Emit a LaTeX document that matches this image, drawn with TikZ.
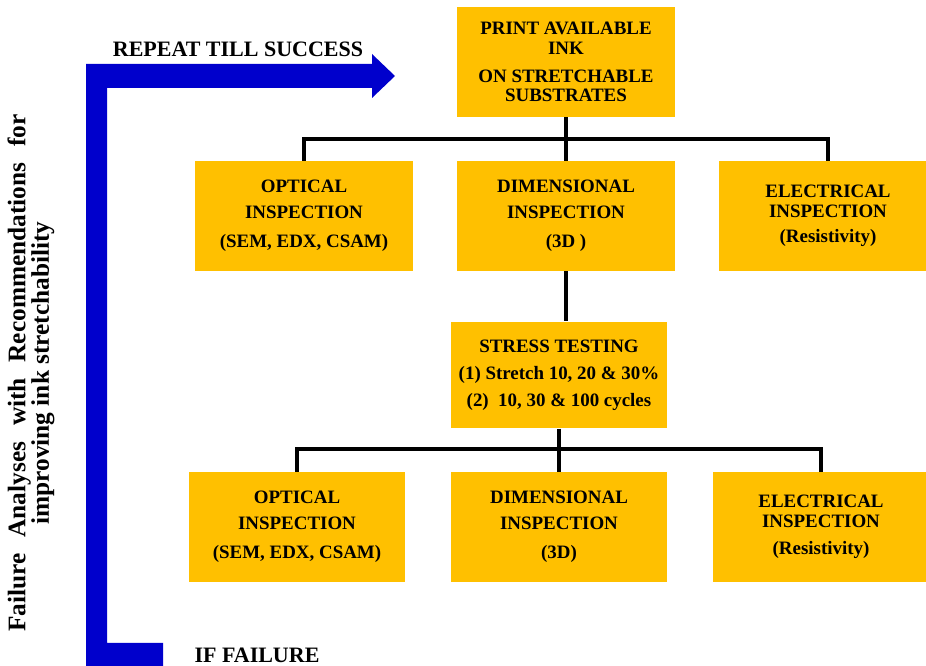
\documentclass[tikz,border=0pt]{standalone}
\usepackage{fontspec}
\setmainfont{Liberation Serif}
\usepackage{tikz}
\usetikzlibrary{calc}
\usepackage{xcolor}
\definecolor{boxgold}{RGB}{255,192,0}
\definecolor{loopblue}{RGB}{0,0,204}

\begin{document}
\begin{tikzpicture}[x=0.75pt,y=-0.75pt]
  \tikzset{stepbox/.style={rectangle,fill=boxgold,draw=none,align=center,inner sep=0pt,
      minimum width=163pt,minimum height=82.5pt,font=\bfseries\fontsize{14.2}{14.8}\selectfont}}
  \tikzset{treeedge/.style={draw=black,line width=2.4pt}}
  \tikzset{looplabel/.style={font=\bfseries\fontsize{16.5}{18}\selectfont,inner sep=0pt,text=black}}
  \useasboundingbox (0,0) rectangle (926,666);
  \fill[loopblue] (86,666) -- (86,64) -- (372,64) -- (372,54) -- (395,76) -- (372,98)
    -- (372,88) -- (107,88) -- (107,643) -- (163,643) -- (163,666) -- cycle;
  \node[looplabel] (repeat) at (238,49) {REPEAT TILL SUCCESS};
  \node[looplabel] (fail) at (257,655) {IF FAILURE};
  \node[rotate=90,align=center,inner sep=0pt,font=\bfseries\fontsize{19}{17.5}\selectfont] (note) at (31,373)
    {\makebox[388pt][s]{Failure Analyses with Recommendations for}\\ improving ink stretchability};
  \node[stepbox] (print) at (566,62) {PRINT AVAILABLE\\ INK\\[6pt] ON STRETCHABLE\\ SUBSTRATES};
  \node[stepbox] (opt1) at (304,216) {OPTICAL\\[4.5pt] INSPECTION\\[7.5pt] (SEM, EDX, CSAM)};
  \node[stepbox] (dim1) at (566,216) {DIMENSIONAL\\[4.5pt] INSPECTION\\[7.5pt] (3D )};
  \node[stepbox] (ele1) at (828,216) {ELECTRICAL\\ INSPECTION\\[4.5pt] (Resistivity)};
  \node[stepbox,minimum width=162pt,minimum height=80pt] (stress) at (559,375)
    {STRESS TESTING\\[6pt] (1) Stretch 10, 20 \& 30\%\\[5pt] (2)~ 10, 30 \& 100 cycles};
  \node[stepbox,minimum width=162pt] (opt2) at (297,527) {OPTICAL\\[4.5pt] INSPECTION\\[7.5pt] (SEM, EDX, CSAM)};
  \node[stepbox,minimum width=162pt] (dim2) at (559,527) {DIMENSIONAL\\[4.5pt] INSPECTION\\[7.5pt] (3D)};
  \node[stepbox,minimum width=162pt] (ele2) at (821,527) {ELECTRICAL\\ INSPECTION\\[6pt] (Resistivity)};
  \coordinate (bus1) at (566,139);
  \coordinate (bus2) at (559,449);
  \draw[treeedge] (print.south) -- (dim1.north);
  \draw[treeedge] (opt1.north) |- (bus1) -| (ele1.north);
  \draw[treeedge] (dim1.south) -- (dim1.south |- stress.north);
  \draw[treeedge] (stress.south) -- (dim2.north);
  \draw[treeedge] (opt2.north) |- (bus2) -| (ele2.north);
\end{tikzpicture}
\end{document}
